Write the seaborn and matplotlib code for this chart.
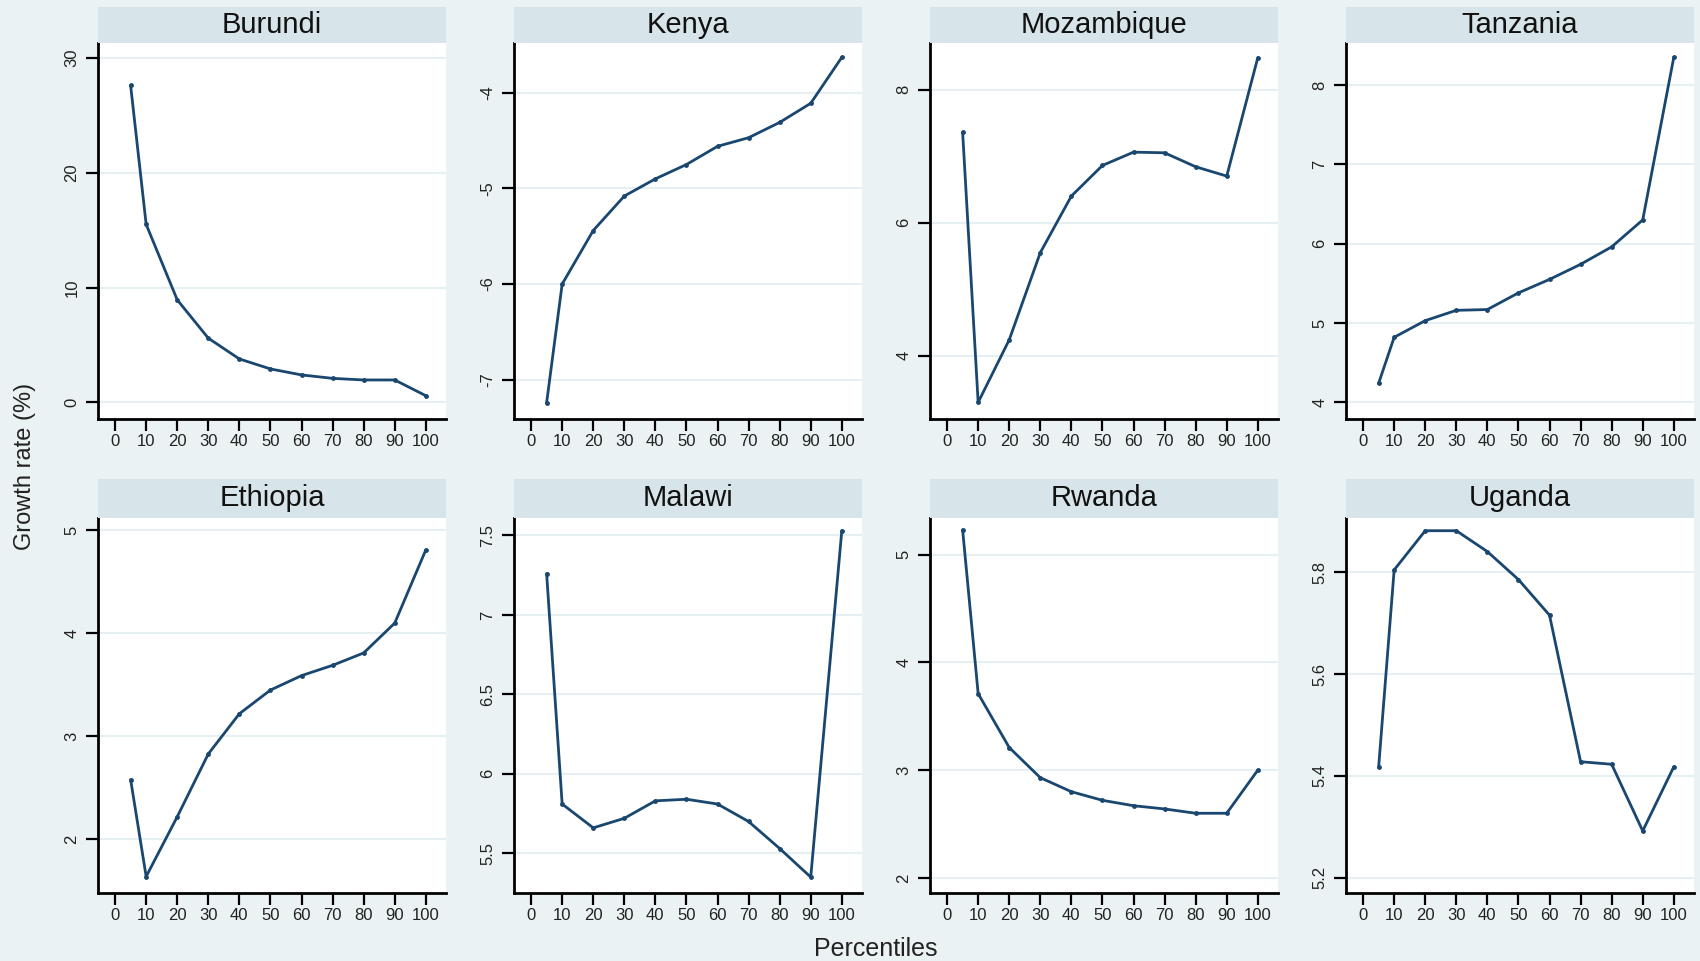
import numpy as np
import pandas as pd
import seaborn as sns
import matplotlib.pyplot as plt

# Growth incidence curves by country (growth rate in %, by percentile)
percentiles = [5, 10, 20, 30, 40, 50, 60, 70, 80, 90, 100]
countries = ['Burundi', 'Kenya', 'Mozambique', 'Tanzania',
             'Ethiopia', 'Malawi', 'Rwanda', 'Uganda']

burundi = [27.6, 15.5, 8.93, 5.59, 3.78, 2.91, 2.39, 2.09, 1.95, 1.95, 0.58]
kenya = [-7.24, -6.0, -5.44, -5.08, -4.90, -4.75, -4.56, -4.47, -4.31, -4.11, -3.63]
mozambique = [7.36, 3.30, 4.24, 5.55, 6.40, 6.86, 7.06, 7.05, 6.84, 6.70, 8.48]
tanzania = [4.24, 4.82, 5.03, 5.16, 5.17, 5.38, 5.55, 5.74, 5.96, 6.30, 8.35]
ethiopia = [2.58, 1.64, 2.22, 2.83, 3.22, 3.45, 3.59, 3.69, 3.81, 4.10, 4.81]
malawi = [7.26, 5.81, 5.66, 5.72, 5.83, 5.84, 5.81, 5.70, 5.53, 5.35, 7.53]
rwanda = [5.23, 3.71, 3.21, 2.93, 2.80, 2.72, 2.67, 2.64, 2.60, 2.60, 3.00]
uganda = [5.417, 5.805, 5.882, 5.882, 5.841, 5.786, 5.716, 5.428, 5.423, 5.292, 5.418]

series = [burundi, kenya, mozambique, tanzania, ethiopia, malawi, rwanda, uganda]

y_ticks = [[0, 10, 20, 30], [-7, -6, -5, -4], [4, 6, 8], [4, 5, 6, 7, 8],
           [2, 3, 4, 5], [5.5, 6, 6.5, 7, 7.5], [2, 3, 4, 5], [5.2, 5.4, 5.6, 5.8]]
y_tick_labels = [['0', '10', '20', '30'], ['-7', '-6', '-5', '-4'], ['4', '6', '8'],
                 ['4', '5', '6', '7', '8'], ['2', '3', '4', '5'],
                 ['5.5', '6', '6.5', '7', '7.5'], ['2', '3', '4', '5'],
                 ['5.2', '5.4', '5.6', '5.8']]
y_limits = [(-1.45, 31.3), (-7.41, -3.48), (3.05, 8.70), (3.79, 8.53),
            (1.48, 5.12), (5.25, 7.61), (1.86, 5.34), (5.17, 5.907)]
x_ticks = list(range(0, 101, 10))

df = pd.DataFrame({
    'country': np.repeat(countries, len(percentiles)),
    'percentile': percentiles * len(countries),
    'growth': np.concatenate(series),
})

sns.set_theme(style='ticks')
plt.rcParams['font.family'] = ['Liberation Sans', 'DejaVu Sans']

bg = '#EAF2F3'
strip_col = '#D7E4E9'
grid_col = '#E6EFF1'
line_col = '#1A476F'

fig = plt.figure(figsize=(17, 9.61), dpi=100, facecolor=bg)
W, H = 1700, 961
col_left = [98, 514, 930, 1346]
panel_w = 348
rows = [(7, 43, 419), (479, 518, 893)]  # strip top, strip bottom / axes top, axes bottom

for i, country in enumerate(countries):
    r, c = divmod(i, 4)
    s_top, a_top, a_bot = rows[r]
    left = col_left[c] / W
    ax = fig.add_axes([left, 1 - a_bot / H, panel_w / W, (a_bot - a_top) / H])
    sax = fig.add_axes([left, 1 - a_top / H, panel_w / W, (a_top - s_top) / H])
    sax.set_facecolor(strip_col)
    sax.set_xticks([])
    sax.set_yticks([])
    for sp in sax.spines.values():
        sp.set_visible(False)
    sax.text(0.5, 0.5, country, ha='center', va='center', fontsize=21,
             color='#111111', transform=sax.transAxes)

    sub = df[df['country'] == country]
    ax.set_facecolor('white')
    for yt in y_ticks[i]:
        ax.axhline(yt, color=grid_col, lw=1.5, zorder=0)
    sns.lineplot(data=sub, x='percentile', y='growth', ax=ax, color=line_col,
                 lw=2, marker='o', markersize=3.5, markeredgewidth=0, zorder=3)
    ax.set_xlim(-5.5, 106.5)
    ax.set_ylim(*y_limits[i])
    ax.set_xticks(x_ticks)
    ax.set_xticklabels([str(t) for t in x_ticks], fontsize=12, color='#222222')
    ax.set_yticks(y_ticks[i])
    ax.set_yticklabels(y_tick_labels[i], fontsize=12, color='#222222',
                       rotation=90, va='center')
    ax.tick_params(axis='both', length=8.5, width=1.6, color='black')
    ax.tick_params(axis='x', pad=2)
    ax.tick_params(axis='y', pad=5)
    for sp in ['top', 'right']:
        ax.spines[sp].set_visible(False)
    for sp in ['left', 'bottom']:
        ax.spines[sp].set_linewidth(2)
        ax.spines[sp].set_color('black')
    ax.set_xlabel('')
    ax.set_ylabel('')

fig.text(25 / W, 1 - 466 / H, 'Growth rate (%)', rotation=90, ha='center',
         va='center', fontsize=17, color='#222222')
fig.text(876 / W, 1 - 949 / H, 'Percentiles', ha='center', va='center',
         fontsize=18, color='#222222')

plt.savefig('out.png', dpi=100, facecolor=bg)
plt.close()
